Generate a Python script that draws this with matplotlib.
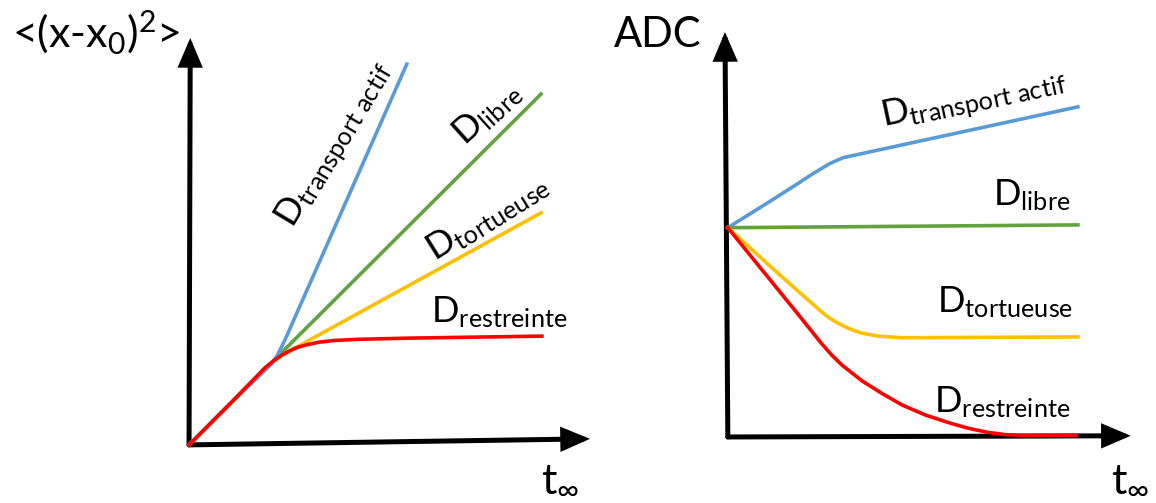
import matplotlib
matplotlib.use('Agg')
import matplotlib.pyplot as plt

plt.rcParams['font.family'] = ['Lato', 'DejaVu Sans']
plt.rcParams['mathtext.fontset'] = 'custom'
plt.rcParams['mathtext.rm'] = 'Lato'
plt.rcParams['mathtext.it'] = 'Lato'
plt.rcParams['mathtext.bf'] = 'Lato:bold'

BLUE = '#5B9BD5'
GREEN = '#62A23F'
YELLOW = '#FFC000'
RED = '#FF0000'

# left panel: mean squared displacement vs time
msd_t_transport = [0, 1.0, 2.05, 2.2, 2.39, 5.43]
msd_transport = [0, 1.0, 2.0, 2.22, 2.6, 9.45]
msd_t_libre = [0, 8.78]
msd_libre = [0, 8.71]
msd_t_tortueuse = [0, 1.0, 2.0, 2.25, 2.5, 2.75, 3.0, 8.78]
msd_tortueuse = [0, 1.0, 1.98, 2.18, 2.33, 2.46, 2.6, 5.76]
msd_t_restreinte = [0, 1.0, 1.9, 2.1, 2.3, 2.5, 2.7, 2.95, 3.25, 3.6, 4.2, 5.5, 8.8]
msd_restreinte = [0, 1.0, 1.92, 2.08, 2.22, 2.33, 2.42, 2.49, 2.55, 2.59, 2.62, 2.65, 2.70]

# right panel: ADC vs time
adc_t_transport = [0, 1.1, 1.7, 2.09, 2.5, 2.83, 8.6]
adc_transport = [5.23, 5.93, 6.32, 6.58, 6.83, 6.98, 8.25]
adc_t_libre = [0, 8.6]
adc_libre = [5.23, 5.30]
adc_t_tortueuse = [0, 1.2, 2.3, 2.5, 2.7, 2.95, 3.27, 3.7, 4.28, 8.6]
adc_tortueuse = [5.23, 4.12, 3.13, 2.97, 2.85, 2.72, 2.6, 2.52, 2.48, 2.5]
adc_t_restreinte = [0, 1.1, 1.7, 2.29, 2.55, 2.8, 3.05, 3.3, 3.8, 4.28,
                    4.85, 5.45, 5.9, 6.36, 6.8, 7.2, 8.55]
adc_restreinte = [5.23, 3.85, 3.1, 2.35, 2.05, 1.8, 1.6, 1.4, 1.08, 0.8,
                  0.55, 0.35, 0.22, 0.12, 0.06, 0.04, 0.04]

lab_transport = r'D$_{transport\ actif}$'
lab_libre = r'D$_{libre}$'
lab_tortueuse = r'D$_{tortueuse}$'
lab_restreinte = r'D$_{restreinte}$'

fig = plt.figure(figsize=(11.56, 5.03), dpi=100)
ax1 = fig.add_axes([0.1462, 0.0755, 0.3815, 0.881])
ax2 = fig.add_axes([0.612, 0.0915, 0.3873, 0.875])

for ax in (ax1, ax2):
    ax.set_xlim(-0.5, 10.5)
    ax.set_ylim(-0.5, 10.5)
    ax.axis('off')


def draw_axes(ax, xtip, ytip):
    arr = dict(arrowstyle='-|>,head_length=0.75,head_width=0.32', lw=3.6, color='black',
               mutation_scale=20, shrinkA=0, shrinkB=0, joinstyle='miter')
    ax.annotate('', xy=xtip, xytext=(0, 0), arrowprops=arr, zorder=1)
    ax.annotate('', xy=ytip, xytext=(0, 0), arrowprops=arr, zorder=1)


draw_axes(ax1, (10.0, 0.15), (0.03, 10.1))
draw_axes(ax2, (9.9, 0.03), (-0.07, 10.12))

lw = 2.6
ax1.plot(msd_t_libre, msd_libre, color=GREEN, lw=lw, zorder=3)
ax1.plot(msd_t_tortueuse, msd_tortueuse, color=YELLOW, lw=lw, zorder=3)
ax1.plot(msd_t_restreinte, msd_restreinte, color=RED, lw=lw, zorder=4)
ax1.plot(msd_t_transport, msd_transport, color=BLUE, lw=lw, zorder=3)

ax2.plot(adc_t_transport, adc_transport, color=BLUE, lw=lw, zorder=3)
ax2.plot(adc_t_libre, adc_libre, color=GREEN, lw=lw, zorder=3)
ax2.plot(adc_t_tortueuse, adc_tortueuse, color=YELLOW, lw=lw, zorder=3)
ax2.plot(adc_t_restreinte, adc_restreinte, color=RED, lw=lw, zorder=4)

fs = 26
kw = dict(fontsize=fs, ha='center', va='center', rotation_mode='anchor')
ax1.text(3.62, 7.45, lab_transport, rotation=59, **kw)
ax1.text(7.43, 8.24, lab_libre, rotation=42, **kw)
ax1.text(7.43, 5.66, lab_tortueuse, rotation=32, **kw)
ax1.text(7.73, 3.30, lab_restreinte, rotation=0, **kw)

ax2.text(6.05, 8.45, lab_transport, rotation=12, **kw)
kw2 = dict(fontsize=fs, ha='right', va='center')
ax2.text(8.42, 6.05, lab_libre, **kw2)
ax2.text(8.48, 3.38, lab_tortueuse, **kw2)
ax2.text(8.42, 0.88, lab_restreinte, **kw2)

# axis titles
fig.text(12 / 1156, 1 - 47 / 503, r'<(x-x$_0$)$^2$>', fontsize=31, ha='left', va='baseline')
fig.text(614 / 1156, 1 - 47 / 503, 'ADC', fontsize=30, ha='left', va='baseline')
fig.text(541 / 1156, 1 - 490 / 503, r't$_{\infty}$', fontsize=31, ha='left', va='baseline')
fig.text(1111 / 1156, 1 - 490 / 503, r't$_{\infty}$', fontsize=31, ha='left', va='baseline')

fig.savefig('out.png', dpi=100)
